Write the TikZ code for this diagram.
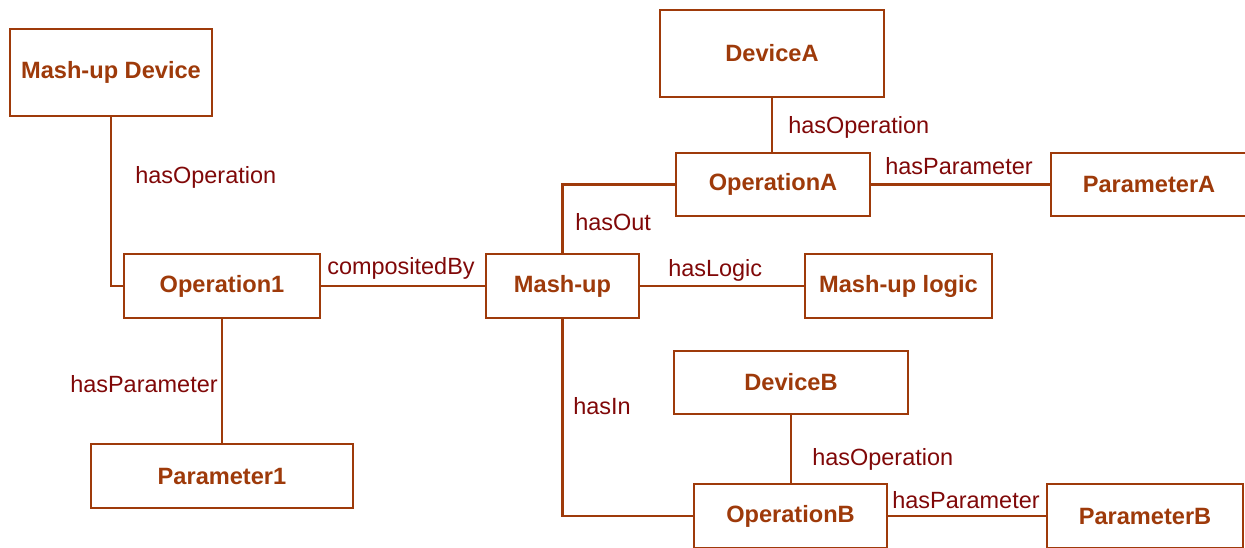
\documentclass[tikz,border=0pt]{standalone}
\usepackage{fontspec}
\setmainfont{Liberation Sans}
\definecolor{boxcol}{RGB}{158,58,10}
\definecolor{labcol}{RGB}{128,8,8}
\begin{document}
\begin{tikzpicture}[x=0.75pt,y=-0.75pt,
  box/.style={draw=boxcol,line width=1.6pt,fill=white,text=boxcol,font=\fontsize{17.7}{20}\selectfont\bfseries,inner sep=0pt,anchor=center},
  lab/.style={text=labcol,font=\fontsize{17.6}{20}\selectfont,anchor=west,inner sep=0pt},
  conn/.style={draw=boxcol,line width=1.6pt}]
\useasboundingbox (0,0) rectangle (1245,547);
\clip (0,0) rectangle (1245,547);
% boxes
\node[box,minimum width=202*0.75pt,minimum height=87*0.75pt] (md) at (111,72.5) {Mash-up Device};
\node[box,minimum width=196*0.75pt,minimum height=64*0.75pt] (op1) at (222,286) {Operation1};
\node[box,minimum width=262*0.75pt,minimum height=64*0.75pt] (p1) at (222,476) {Parameter1};
\node[box,minimum width=153*0.75pt,minimum height=64*0.75pt] (mu) at (562.5,286) {Mash-up};
\node[box,minimum width=187*0.75pt,minimum height=64*0.75pt] (ml) at (898.5,286) {Mash-up logic};
\node[box,minimum width=224*0.75pt,minimum height=87*0.75pt] (da) at (772,53.5) {DeviceA};
\node[box,minimum width=194*0.75pt,minimum height=63*0.75pt] (oa) at (773,184.5) {OperationA};
\node[box,minimum width=196*0.75pt,minimum height=63*0.75pt] (pa) at (1149,184.5) {ParameterA};
\node[box,minimum width=234*0.75pt,minimum height=63*0.75pt] (db) at (791,382.5) {DeviceB};
\node[box,minimum width=193*0.75pt,minimum height=64*0.75pt] (ob) at (790.5,516) {OperationB};
\node[box,minimum width=196*0.75pt,minimum height=64*0.75pt] (pb) at (1145,516) {ParameterB};
% connectors
\draw[conn] (md.south) |- (op1.west);
\draw[conn] (op1.east) -- (mu.west);
\draw[conn] (op1.south) -- (p1.north);
\draw[conn] (mu.north) |- (oa.west);
\draw[conn] (da.south) -- (oa.north -| da.south);
\draw[conn] (oa.east) -- (pa.west);
\draw[conn] (mu.east) -- (ml.west);
\draw[conn] (mu.south) |- (ob.west);
\draw[conn] (db.south) -- (ob.north -| db.south);
\draw[conn] (ob.east) -- (pb.west);
% labels
\node[lab] (l1) at (135,177) {hasOperation};
\node[lab] (l2) at (327,268) {compositedBy};
\node[lab] (l3) at (70,384) {hasParameter};
\node[lab] (l4) at (575,222) {hasOut};
\node[lab] (l5) at (788,127) {hasOperation};
\node[lab] (l6) at (885,166) {hasParameter};
\node[lab] (l7) at (668,270) {hasLogic};
\node[lab] (l8) at (573,406) {hasIn};
\node[lab] (l9) at (812,459) {hasOperation};
\node[lab] (l10) at (892,500) {hasParameter};
\end{tikzpicture}
\end{document}
